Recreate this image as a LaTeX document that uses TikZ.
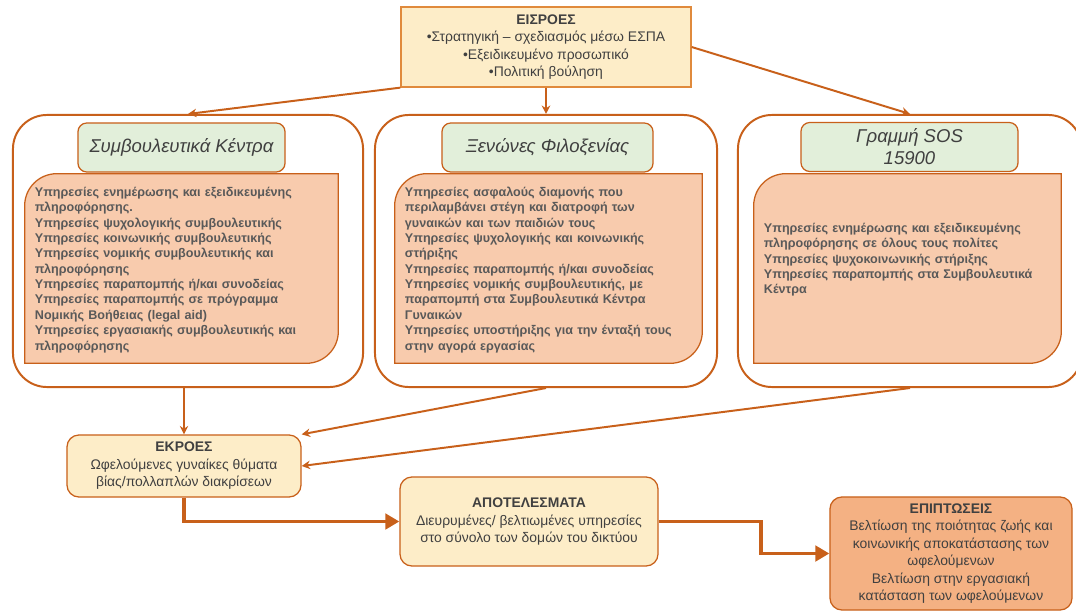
\documentclass[tikz,border=0pt]{standalone}
\usepackage{fontspec}
\setmainfont{Liberation Sans}
\usepackage{tikz}
\usetikzlibrary{arrows.meta,backgrounds}
\definecolor{edgeor}{HTML}{C8601A}
\definecolor{inedge}{HTML}{E08A3C}
\definecolor{inyellow}{HTML}{FDEDC8}
\definecolor{titlegreen}{HTML}{E2EFDA}
\definecolor{peach}{HTML}{F8CBAD}
\definecolor{impor}{HTML}{F4B183}
\definecolor{txtdark}{HTML}{404040}
\definecolor{txtgray}{HTML}{595959}

\begin{document}
\begin{tikzpicture}[x=0.025cm, y=-0.025cm,
  frame/.style={draw=edgeor, line width=1.4pt, rounded corners=0.85cm, minimum height=6.8cm},
  flowbox/.style={draw=edgeor, line width=0.9pt, rounded corners=0.3cm, fill=inyellow, align=center,
    text=txtdark, font=\fontsize{9.9}{12.4}\selectfont},
  titlebox/.style={draw=edgeor, line width=0.9pt, rounded corners=0.22cm, fill=titlegreen, align=center,
    text=txtdark, font=\fontsize{13.2}{15.6}\selectfont\itshape, minimum height=1.225cm},
  body/.style={inner xsep=0.25cm, inner ysep=0pt, align=left, text=txtgray,
    font=\fontsize{8.95}{10.95}\selectfont\bfseries, minimum height=4.725cm},
  thin/.style={draw=edgeor, line width=1.4pt, -{Stealth[length=6pt,width=6pt]}},
  thick/.style={draw=edgeor, line width=2.8pt, -{Triangle[length=10pt,width=11pt]}}]
  \useasboundingbox (0,0) rectangle (1076,616);

  % Define nodes
  \node[flowbox, draw=inedge, rounded corners=0pt, minimum width=7.25cm, minimum height=2cm] (In) at (546,47)
    {\textbf{ΕΙΣΡΟΕΣ}\\ •Στρατηγική – σχεδιασμός μέσω ΕΣΠΑ\\ •Εξειδικευμένο προσωπικό\\ •Πολιτική βούληση};

  \node[frame, minimum width=8.75cm] (CK) at (188,251) {};
  \node[frame, minimum width=8.55cm] (XF) at (546,251) {};
  \node[frame, minimum width=8.6cm] (SOS) at (910,251) {};

  \node[titlebox, minimum width=5.175cm] (CKt) at (181.5,147.5) {Συμβουλευτικά Κέντρα};
  \node[titlebox, minimum width=5.275cm] (XFt) at (547.5,147.5) {Ξενώνες Φιλοξενίας};
  \node[titlebox, minimum width=5.425cm] (SOSt) at (909.5,147) {Γραμμή SOS\\15900};

  \node[body, text width=7.325cm] (CKb) at (181.5,268.5)
    {\rule{0pt}{0.3cm}Υπηρεσίες ενημέρωσης και εξειδικευμένης\\ πληροφόρησης.\\ Υπηρεσίες ψυχολογικής συμβουλευτικής\\
     Υπηρεσίες κοινωνικής συμβουλευτικής\\ Υπηρεσίες νομικής συμβουλευτικής και\\ πληροφόρησης\\
     Υπηρεσίες παραπομπής ή/και συνοδείας\\ Υπηρεσίες παραπομπής σε πρόγραμμα\\
     Νομικής Βοήθειας (legal aid)\\ Υπηρεσίες εργασιακής συμβουλευτικής και\\ πληροφόρησης};
  \node[body, text width=7.175cm] (XFb) at (548.5,268.5)
    {\rule{0pt}{0.3cm}Υπηρεσίες ασφαλούς διαμονής που\\ περιλαμβάνει στέγη και διατροφή των\\ γυναικών και των παιδιών τους\\
     Υπηρεσίες ψυχολογικής και κοινωνικής\\ στήριξης\\ Υπηρεσίες παραπομπής ή/και συνοδείας\\
     Υπηρεσίες νομικής συμβουλευτικής, με\\ παραπομπή στα Συμβουλευτικά Κέντρα\\ Γυναικών\\
     Υπηρεσίες υποστήριξης για την ένταξή τους\\ στην αγορά εργασίας};
  \node[body, text width=7.175cm] (SOSb) at (907.5,268.5)
    {Υπηρεσίες ενημέρωσης και εξειδικευμένης\\ πληροφόρησης σε όλους τους πολίτες\\
     Υπηρεσίες ψυχοκοινωνικής στήριξης\\ Υπηρεσίες παραπομπής στα Συμβουλευτικά\\ Κέντρα\\[0.12cm]\mbox{}};

  \node[flowbox, minimum width=5.85cm, minimum height=1.55cm] (Out) at (184,466)
    {\textbf{ΕΚΡΟΕΣ}\\ Ωφελούμενες γυναίκες θύματα\\ βίας/πολλαπλών διακρίσεων};
  \node[flowbox, minimum width=6.45cm, minimum height=2.225cm] (Res) at (529,521.5)
    {\textbf{ΑΠΟΤΕΛΕΣΜΑΤΑ}\\ Διευρυμένες/ βελτιωμένες υπηρεσίες\\ στο σύνολο των δομών του δικτύου};
  \node[flowbox, fill=impor, minimum width=6.05cm, minimum height=2.825cm] (Imp) at (951,553.5)
    {\textbf{ΕΠΙΠΤΩΣΕΙΣ}\\ Βελτίωση της ποιότητας ζωής και\\ κοινωνικής αποκατάστασης των\\ ωφελούμενων\\
     Βελτίωση στην εργασιακή\\ κατάσταση των ωφελούμενων};

  % service boxes behind their text
  \begin{scope}[on background layer]
    \foreach \b in {CKb,XFb,SOSb}
      \draw[draw=edgeor, line width=0.9pt, fill=peach]
        ([yshift=-0.8cm]\b.north west) arc[start angle=180, end angle=90, radius=0.8cm]
        -- (\b.north east) -- ([yshift=0.8cm]\b.south east)
        arc[start angle=0, end angle=-90, radius=0.8cm] -- (\b.south west) -- cycle;
  \end{scope}

  % Define edges
  \draw[thin] (In.south west) -- (CK.north);
  \draw[thin] (In.south) -- (XF.north);
  \draw[thin] (In.east) -- (SOS.north);
  \draw[thin] (CK.south -| Out.north) -- (Out.north);
  \draw[thin] (XF.south) -- (Out.north east);
  \draw[thin] (SOS.south) -- (Out.east);
  \draw[thick] (Out.south) |- (Res.west);
  \draw[thick] (Res.east) -- ++(2.55cm,0) |- (Imp.west);
\end{tikzpicture}
\end{document}
